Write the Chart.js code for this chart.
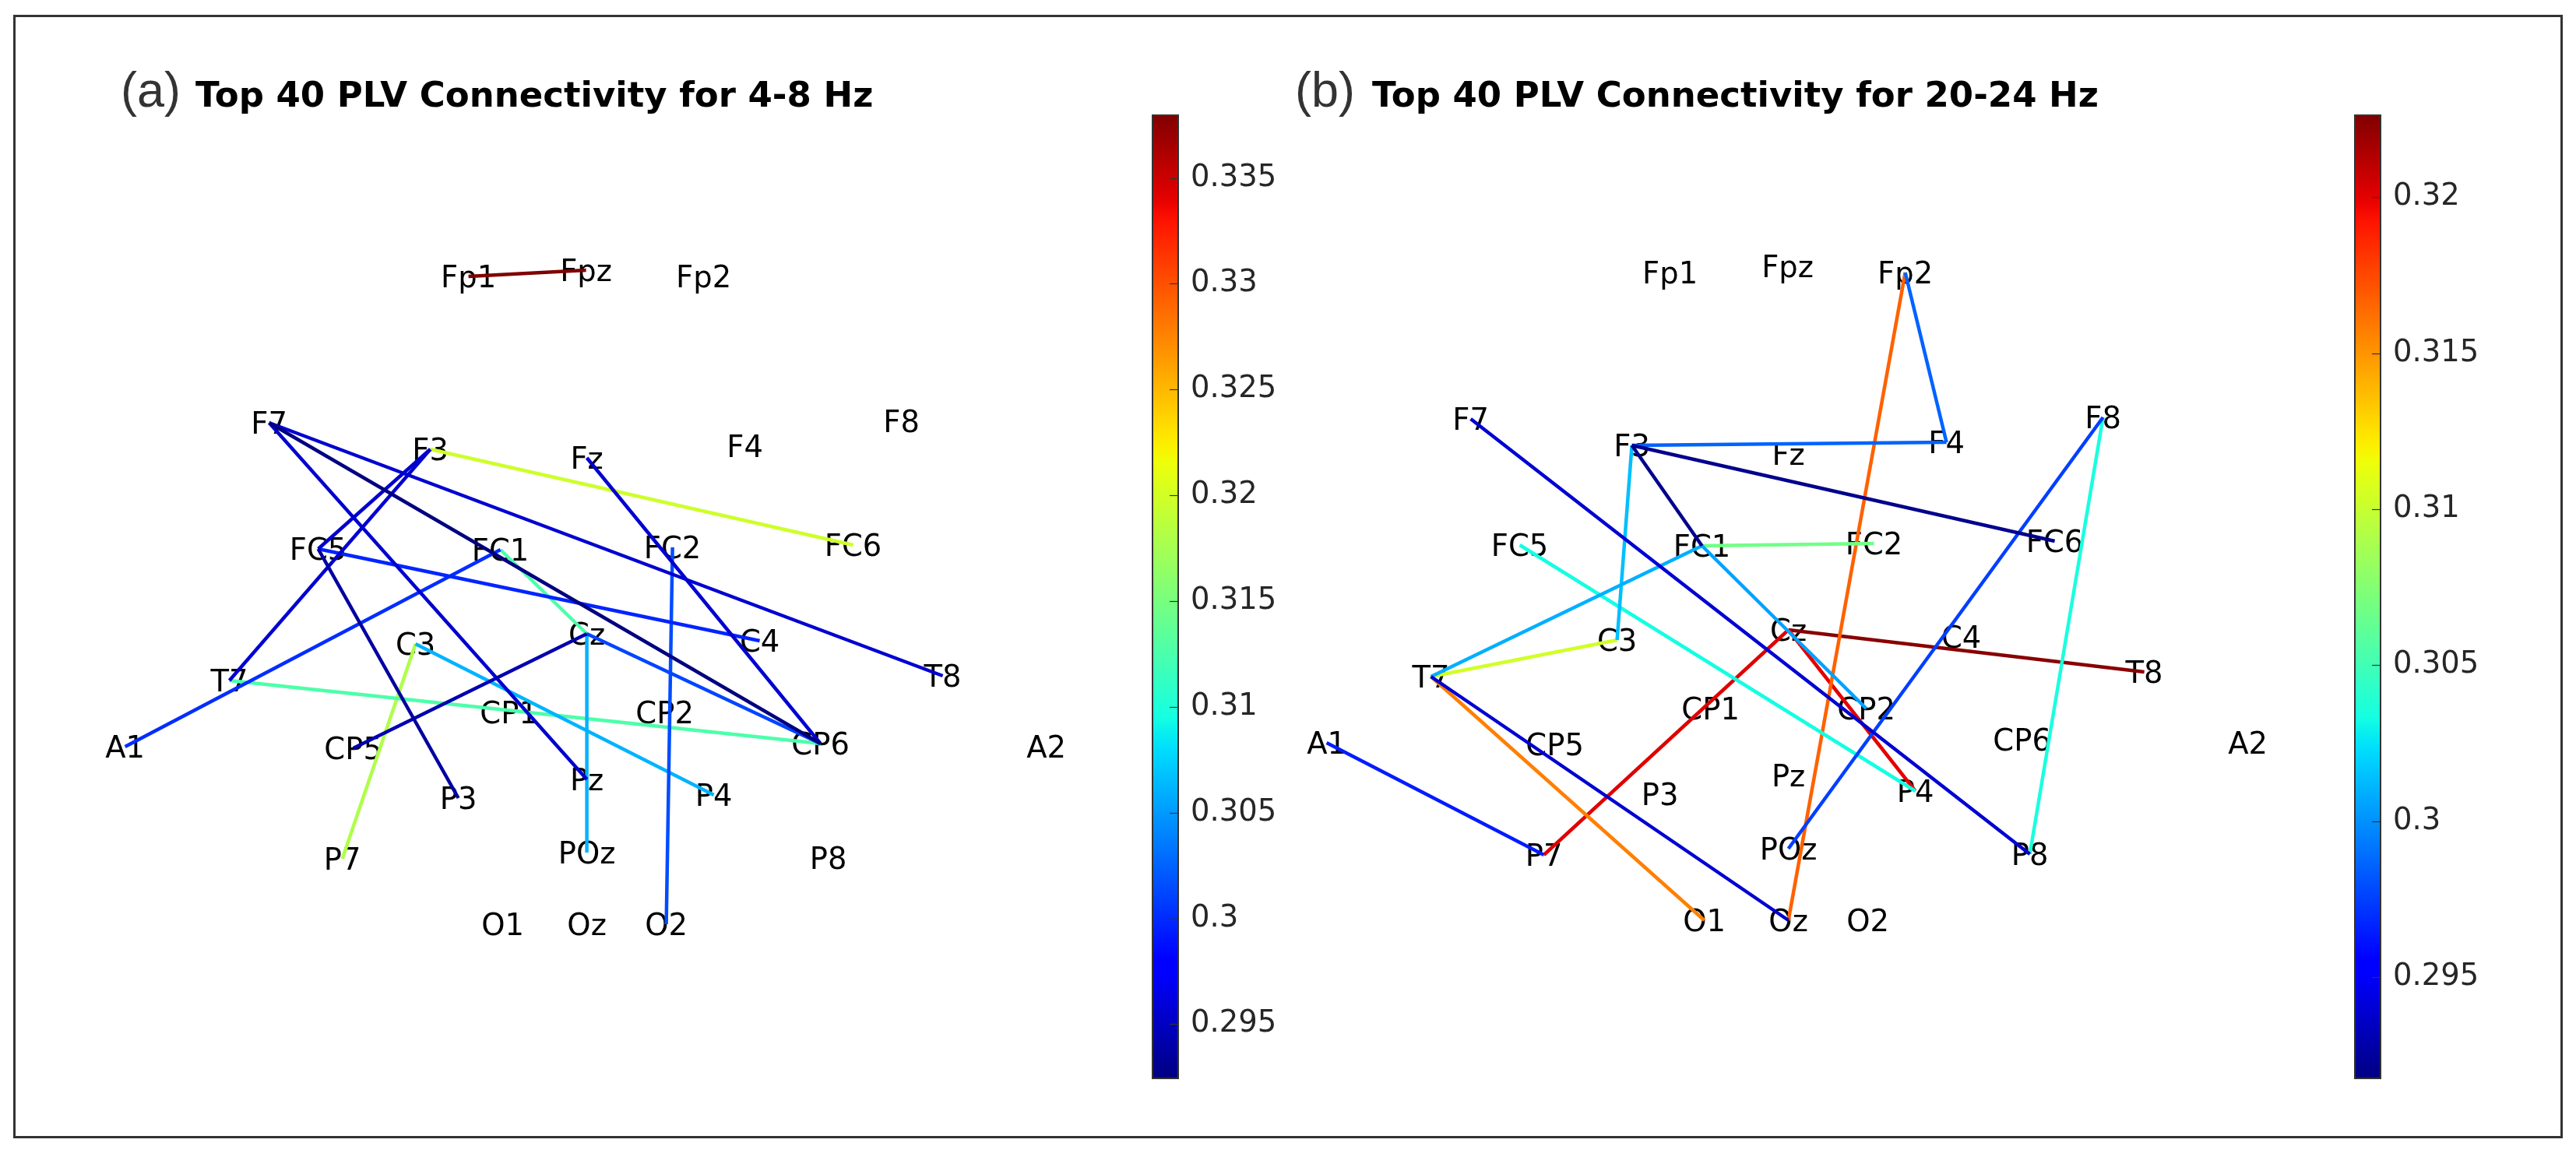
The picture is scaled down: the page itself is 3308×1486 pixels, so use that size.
<!DOCTYPE html>
<html>
<head>
<meta charset="utf-8">
<script src="https://cdn.jsdelivr.net/npm/chart.js@4.4.1/dist/chart.umd.min.js"></script>
<style>
  html, body { margin: 0; padding: 0; background: #fff; }
  body { width: 3308px; height: 1486px; position: relative; overflow: hidden; }
  #frame {
    position: absolute; left: 17px; top: 19px; width: 3274px; height: 1443px;
    box-sizing: border-box; border: 3px solid #333;
  }
  canvas { position: absolute; }
</style>
</head>
<body>
<div id="frame"></div>
<canvas id="netA" width="1330" height="1200" style="left:100px;top:60px;width:1330px;height:1200px"></canvas>
<canvas id="barA" width="235" height="1239" style="left:1479px;top:147px;width:235px;height:1239px"></canvas>
<canvas id="netB" width="1330" height="1200" style="left:1643px;top:55px;width:1330px;height:1200px"></canvas>
<canvas id="barB" width="235" height="1239" style="left:3023px;top:147px;width:235px;height:1239px"></canvas>
<script>
// electrode layout (px relative to Cz, y up)
const electrodes = ["Fp1", "Fpz", "Fp2", "F7", "F3", "Fz", "F4", "F8",
  "FC5", "FC1", "FC2", "FC6", "T7", "C3", "Cz", "C4", "T8",
  "A1", "CP5", "CP1", "CP2", "CP6", "A2",
  "P7", "P3", "Pz", "P4", "P8", "POz", "O1", "Oz", "O2"];
const posX = [-152, -1, 150, -408, -201, 0, 203, 404,
  -345, -111, 110, 342, -459, -220, 0, 222, 457,
  -593, -300, -100, 100, 300, 590,
  -314, -165, 0, 163, 310, 0, -108, 0, 102];
const posY = [459, 467, 459, 271, 237, 226, 241, 273,
  109, 108, 111, 114, -60, -13, 0, -9, -54,
  -145, -147, -101, -101, -141, -145,
  -289, -211, -187, -207, -288, -281, -373, -373, -373];

// (a) 4-8 Hz
const linksA = [["Fp1", "Fpz"], ["F3", "FC6"], ["C3", "P7"], ["FC1", "Cz"], ["T7", "CP6"],
  ["C3", "P4"], ["Cz", "POz"], ["FC2", "O2"], ["Cz", "CP6"], ["FC1", "A1"],
  ["FC5", "C4"], ["F7", "T8"], ["F3", "T7"], ["F3", "FC5"], ["F7", "Pz"],
  ["Fz", "CP6"], ["CP5", "Cz"], ["FC5", "P3"], ["F7", "CP6"]];
const plvA = [0.338, 0.3197, 0.318, 0.3126, 0.3126,
  0.3061, 0.3061, 0.3015, 0.3012, 0.3001,
  0.2997, 0.2956, 0.2956, 0.2955, 0.2955,
  0.2956, 0.2943, 0.2937, 0.2924];
const rangeA = [0.2924, 0.338];
const ticksA = [0.295, 0.3, 0.305, 0.31, 0.315, 0.32, 0.325, 0.33, 0.335];

// (b) 20-24 Hz
const linksB = [["Cz", "T8"], ["Cz", "P7"], ["Cz", "P4"], ["Fp2", "Oz"], ["T7", "O1"],
  ["T7", "C3"], ["FC1", "FC2"], ["F8", "P8"], ["FC5", "P4"], ["F3", "C3"],
  ["FC1", "T7"], ["FC1", "CP2"], ["F3", "F4"], ["Fp2", "F4"], ["POz", "F8"],
  ["A1", "P7"], ["F7", "P8"], ["T7", "Oz"], ["F3", "FC6"], ["F3", "FC1"]];
const plvB = [0.3224, 0.3201, 0.32, 0.3167, 0.3157,
  0.3104, 0.3068, 0.3035, 0.3033, 0.3014,
  0.3009, 0.3005, 0.2986, 0.2986, 0.2975,
  0.2964, 0.2939, 0.2939, 0.2921, 0.2921];
const rangeB = [0.29173, 0.32265];
const ticksB = [0.295, 0.3, 0.305, 0.31, 0.315, 0.32];

// matplotlib "jet"
function jet(t) {
  t = Math.min(1, Math.max(0, t));
  const seg = (pts) => {
    for (let i = 1; i < pts.length; i++) {
      if (t <= pts[i][0]) {
        const [x0, y0] = pts[i - 1];
        const [x1, y1] = pts[i];
        return y0 + ((y1 - y0) * (t - x0)) / (x1 - x0);
      }
    }
    return pts[pts.length - 1][1];
  };
  const r = seg([[0, 0], [0.35, 0], [0.66, 1], [0.89, 1], [1, 0.5]]);
  const g = seg([[0, 0], [0.125, 0], [0.375, 1], [0.64, 1], [0.91, 0], [1, 0]]);
  const b = seg([[0, 0.5], [0.11, 1], [0.34, 1], [0.65, 0], [1, 0]]);
  return `rgb(${Math.round(r * 255)}, ${Math.round(g * 255)}, ${Math.round(b * 255)})`;
}

const electrodePlugin = {
  id: "electrodes",
  beforeDatasetsDraw(chart, args, opts) {
    const { ctx, scales } = chart;
    ctx.save();
    ctx.fillStyle = "#000";
    ctx.font = '38.5px "DejaVu Sans"';
    ctx.textAlign = "center";
    ctx.textBaseline = "alphabetic";
    electrodes.forEach((name, i) => {
      const px = scales.x.getPixelForValue(posX[i]);
      const py = scales.y.getPixelForValue(posY[i]);
      ctx.fillText(name, px, py + 14);
    });
    // panel title
    ctx.textAlign = "left";
    ctx.fillStyle = "#333";
    ctx.font = '63px "Liberation Sans", Arial, sans-serif';
    ctx.fillText(opts.tag, opts.tagX, opts.baseline);
    ctx.fillStyle = "#000";
    ctx.font = 'bold 45px "DejaVu Sans"';
    ctx.fillText(opts.title, opts.titleX, opts.baseline);
    ctx.restore();
  },
};

function renderNetwork(canvas, links, values, range, title) {
  const idx = (n) => electrodes.indexOf(n);
  const order = values.map((v, i) => i).sort((a, b) => values[a] - values[b]);
  const datasets = order.map((i) => {
    const [a, b] = links[i];
    return {
      data: [
        { x: posX[idx(a)], y: posY[idx(a)] },
        { x: posX[idx(b)], y: posY[idx(b)] },
      ],
      borderColor: jet((values[i] - range[0]) / (range[1] - range[0])),
      borderWidth: 4.5,
      showLine: true,
      pointRadius: 0,
      pointHoverRadius: 0,
    };
  });

  return new Chart(canvas, {
    type: "scatter",
    data: { datasets },
    options: {
      responsive: false,
      animation: false,
      events: [],
      layout: { padding: 0, autoPadding: false },
      plugins: {
        legend: { display: false },
        tooltip: { enabled: false },
        electrodes: title,
      },
      scales: {
        x: { display: false, min: -653.6, max: 676.4 },
        y: { display: false, min: -446, max: 754 },
      },
    },
    plugins: [electrodePlugin],
  });
}

const colorbarPlugin = {
  id: "colorbar",
  beforeDatasetsDraw(chart) {
    const { ctx, chartArea: a, scales } = chart;
    ctx.save();
    const grad = ctx.createLinearGradient(0, a.bottom, 0, a.top);
    for (let i = 0; i <= 64; i++) grad.addColorStop(i / 64, jet(i / 64));
    ctx.fillStyle = grad;
    ctx.fillRect(a.left, a.top, a.right - a.left, a.bottom - a.top);
    ctx.strokeStyle = "#333";
    ctx.lineWidth = 1.2;
    scales.y.ticks.forEach((t) => {
      const y = Math.round(scales.y.getPixelForValue(t.value)) + 0.5;
      ctx.beginPath();
      ctx.moveTo(a.right - 12, y);
      ctx.lineTo(a.right, y);
      ctx.stroke();
    });
    ctx.lineWidth = 2;
    ctx.strokeRect(a.left + 1, a.top + 1, a.right - a.left - 2, a.bottom - a.top - 2);
    ctx.restore();
  },
};

function renderColorbar(canvas, range, tickValues) {
  return new Chart(canvas, {
    type: "scatter",
    data: { datasets: [] },
    options: {
      responsive: false,
      animation: false,
      events: [],
      layout: { padding: 0, autoPadding: false },
      plugins: { legend: { display: false }, tooltip: { enabled: false } },
      scales: {
        x: { display: false, min: 0, max: 1 },
        y: {
          position: "right",
          min: range[0],
          max: range[1],
          afterBuildTicks: (s) => {
            s.ticks = tickValues.map((v) => ({ value: v }));
          },
          afterFit: (s) => {
            s.width = 200;
            s.paddingTop = 0;
            s.paddingBottom = 0;
          },
          grid: { display: false, drawTicks: false },
          border: { display: false },
          ticks: {
            padding: 15,
            color: "#262626",
            font: { family: '"DejaVu Sans"', size: 38.5 },
            callback: (v) => String(+Number(v).toFixed(3)),
          },
        },
      },
    },
    plugins: [colorbarPlugin],
  });
}

renderNetwork(document.getElementById("netA"), linksA, plvA, rangeA, {
  tag: "(a)", tagX: 55, title: "Top 40 PLV Connectivity for 4-8 Hz", titleX: 151, baseline: 76.5,
});
renderNetwork(document.getElementById("netB"), linksB, plvB, rangeB, {
  tag: "(b)", tagX: 20, title: "Top 40 PLV Connectivity for 20-24 Hz", titleX: 119, baseline: 81.5,
});
renderColorbar(document.getElementById("barA"), rangeA, ticksA);
renderColorbar(document.getElementById("barB"), rangeB, ticksB);
</script>
</body>
</html>
